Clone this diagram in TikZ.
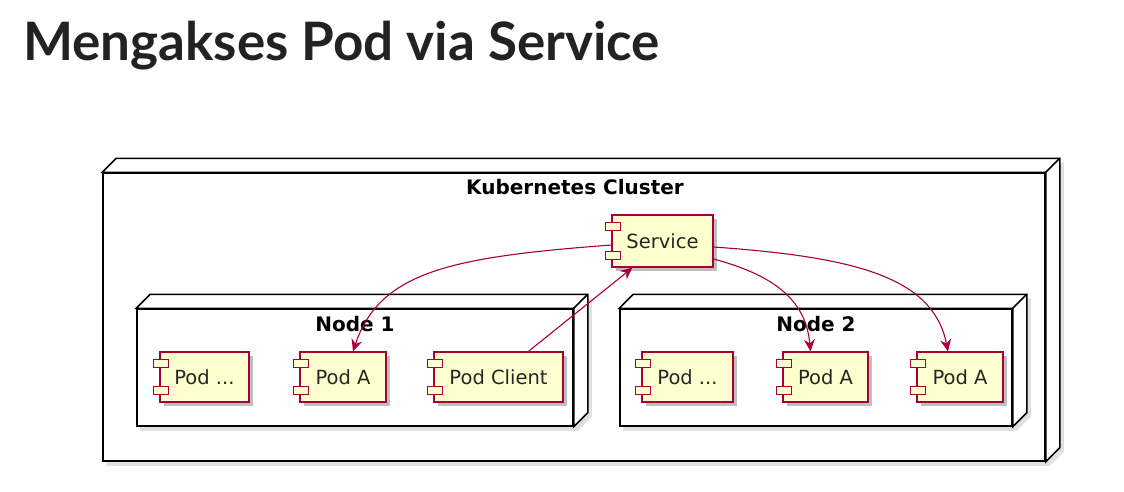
\documentclass[tikz,border=0pt]{standalone}
\usepackage{fontspec}
\setmainfont{DejaVu Sans}
\newfontfamily\titlefont{Lato}
\usetikzlibrary{arrows.meta,shadows,calc}
\definecolor{pfill}{HTML}{FEFECE}
\definecolor{pborder}{HTML}{A80036}
\definecolor{titlecol}{HTML}{222222}
% 3D boxes
\newcommand{\threedbox}[1]{%
  \fill[black, opacity=0.12] ($(#1.north east)+(4,-10)$) -- ($(#1.north east)+(18,-10)$) -- ($(#1.south east)+(18,-10)$) -- ($(#1.south east)+(4,4)$) -- ($(#1.south west)+(4,4)$) -- ($(#1.south west)+(4,0)$) -- ($(#1.south east)$) -- cycle;
  \draw[box, fill=white] (#1.north west) -- ++(14,-14) -- ($(#1.north east)+(14,-14)$) -- ($(#1.south east)+(14,-14)$) -- (#1.south east) -- (#1.north east) -- cycle;
  \draw[box] (#1.north east) -- ++(14,-14);
}
\newcommand{\comptabs}[1]{%
  \draw[tab] ($(#1.north west)+(-6,8)$) rectangle ($(#1.north west)+(9,16)$);
  \draw[tab] ($(#1.south west)+(-6,-16)$) rectangle ($(#1.south west)+(9,-8)$);
}
\begin{document}
\begin{tikzpicture}[x=1pt,y=-1pt,
  box/.style={draw=black, line width=1.5pt, line join=miter},
  boxface/.style={box, fill=white, rectangle, inner sep=0pt},
  comp/.style={draw=pborder, fill=pfill, line width=1.3pt, rectangle, minimum height=50pt, inner sep=0pt,
    font=\fontsize{19.5}{21}\selectfont, text=black!85,
    drop shadow={shadow xshift=4pt,shadow yshift=-4pt,fill=black,opacity=0.25}},
  tab/.style={draw=pborder, fill=pfill, line width=1.3pt},
  boxlabel/.style={font=\bfseries\fontsize{20}{21}\selectfont, inner sep=0pt},
  link/.style={draw=pborder, line width=1.1pt, -{Stealth[length=12pt,width=11pt,inset=4pt]}}
]
\fill[white] (0,0) rectangle (1124,491);
\useasboundingbox (0,0) rectangle (1124,491);

% title
\node[anchor=base west, font=\titlefont\bfseries\fontsize{53}{58}\selectfont, text=titlecol, inner sep=0pt] (title) at (23,60) {Mengakses Pod via Service};

\node[boxface, minimum width=942pt, minimum height=288pt] (cluster) at (574,317) {};
\threedbox{cluster}
\node[boxlabel] (clusterlabel) at (575,187) {Kubernetes Cluster};

\node[boxface, minimum width=436pt, minimum height=117pt] (node1) at (355,367.5) {};
\threedbox{node1}
\node[boxlabel] (node1label) at (355,324) {Node 1};

\node[boxface, minimum width=392pt, minimum height=117pt] (node2) at (816,367.5) {};
\threedbox{node2}
\node[boxlabel] (node2label) at (816,324) {Node 2};

% components
\node[comp, minimum width=101pt, minimum height=52pt] (service) at (662.5,241) {Service};
\comptabs{service}
\node[comp, minimum width=89pt] (p1a) at (204.5,377) {Pod ...};
\comptabs{p1a}
\node[comp, minimum width=86pt] (p1b) at (343,377) {Pod A};
\comptabs{p1b}
\node[comp, minimum width=129pt] (p1c) at (498.5,377) {Pod Client};
\comptabs{p1c}
\node[comp, minimum width=91pt] (p2a) at (687.5,377) {Pod ...};
\comptabs{p2a}
\node[comp, minimum width=85pt] (p2b) at (825.5,377) {Pod A};
\comptabs{p2b}
\node[comp, minimum width=86pt] (p2c) at (960,377) {Pod A};
\comptabs{p2c}

% connectors
\draw[link] ($(service.west)+(0,4)$) .. controls +(-160,12) and +(27,-80) .. ($(p1b.north)+(10,0)$);
\draw[link] ($(p1c.north)+(30,0)$) -- ($(service.south)+(-30,0)$);
\draw[link] ($(service.east)+(0,18)$) .. controls +(55,15) and +(-5,-55) .. ($(p2b.north)+(-15,0)$);
\draw[link] ($(service.east)+(0,6)$) .. controls +(140,10) and +(-15,-75) .. ($(p2c.north)+(-12,0)$);
\end{tikzpicture}
\end{document}
